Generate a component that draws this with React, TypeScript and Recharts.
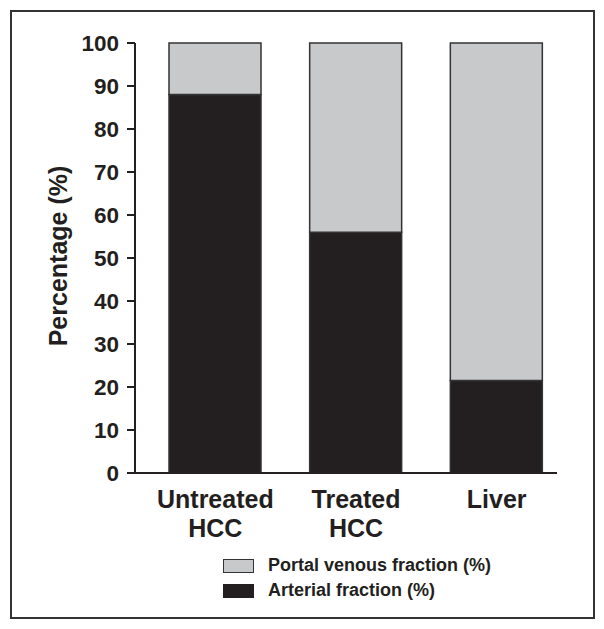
import React from 'react';
import { BarChart, Bar, XAxis, YAxis } from 'recharts';

const groups = ['Untreated HCC', 'Treated HCC', 'Liver'];
const arterial = [88, 56, 21.5];
const portal = [12, 44, 78.5];
const yTicks = [0, 10, 20, 30, 40, 50, 60, 70, 80, 90, 100];

const data = groups.map((name, i) => ({ name, arterial: arterial[i], portal: portal[i] }));

const DARK = '#231f20';
const GRAY = '#c8c9cb';
const FONT = '"Liberation Sans", Arial, Helvetica, sans-serif';

const GroupTick = (props: any) => {
  const { x, y, payload } = props;
  const words = String(payload.value).split(' ');
  return (
    <text x={x} y={y} textAnchor="middle" fill={DARK} fontFamily={FONT} fontWeight="bold" fontSize={25}>
      {words.map((w: string, i: number) => (
        <tspan key={i} x={x} y={y + 35 + i * 29}>{w}</tspan>
      ))}
    </text>
  );
};

const App = () => {
  return (
    <div style={{ position: 'absolute', left: 0, top: 0, width: 604, height: 629, background: '#fff' }}>
      {/* frame */}
      <div style={{ position: 'absolute', left: 10, top: 10, width: 585, height: 609, boxSizing: 'border-box', border: '2px solid #333' }} />

      <div style={{ position: 'absolute', left: 0, top: 0 }}>
        <BarChart
          width={604}
          height={629}
          data={data}
          margin={{ top: 43, right: 47, left: 75, bottom: 56 }}
          barSize={92}
        >
          <XAxis
            dataKey="name"
            height={100}
            tickLine={false}
            tickSize={0}
            tickMargin={0}
            axisLine={{ stroke: DARK, strokeWidth: 2 }}
            tick={<GroupTick />}
            padding={{ left: 10, right: -10 }}
            interval={0}
          />
          <YAxis
            width={60}
            domain={[0, 100]}
            ticks={yTicks}
            interval={0}
            tickSize={8}
            tickMargin={8}
            axisLine={{ stroke: DARK, strokeWidth: 2 }}
            tickLine={{ stroke: DARK, strokeWidth: 2 }}
            tick={{ fill: DARK, fontFamily: FONT, fontWeight: 'bold', fontSize: 22.5 }}
          />
          <Bar dataKey="arterial" stackId="a" fill={DARK} stroke="#333" strokeWidth={1.5} isAnimationActive={false} />
          <Bar dataKey="portal" stackId="a" fill={GRAY} stroke="#333" strokeWidth={1.5} isAnimationActive={false} />
        </BarChart>
      </div>

      {/* y axis title */}
      <div
        style={{
          position: 'absolute',
          left: 58,
          top: 256,
          transform: 'translate(-50%, -50%) rotate(-90deg)',
          whiteSpace: 'nowrap',
          fontFamily: FONT,
          fontWeight: 'bold',
          fontSize: 25,
          color: DARK,
        }}
      >
        Percentage (%)
      </div>

      {/* legend */}
      <div style={{ position: 'absolute', left: 223, top: 553, fontFamily: FONT, fontWeight: 'bold', fontSize: 18, color: DARK }}>
        <div style={{ display: 'flex', alignItems: 'center', height: 25 }}>
          <div style={{ width: 31, height: 14, boxSizing: 'border-box', background: GRAY, border: '1.5px solid #333', marginRight: 14 }} />
          <span>Portal venous fraction (%)</span>
        </div>
        <div style={{ display: 'flex', alignItems: 'center', height: 25 }}>
          <div style={{ width: 31, height: 14, background: DARK, marginRight: 14 }} />
          <span>Arterial fraction (%)</span>
        </div>
      </div>
    </div>
  );
};

export default App;
